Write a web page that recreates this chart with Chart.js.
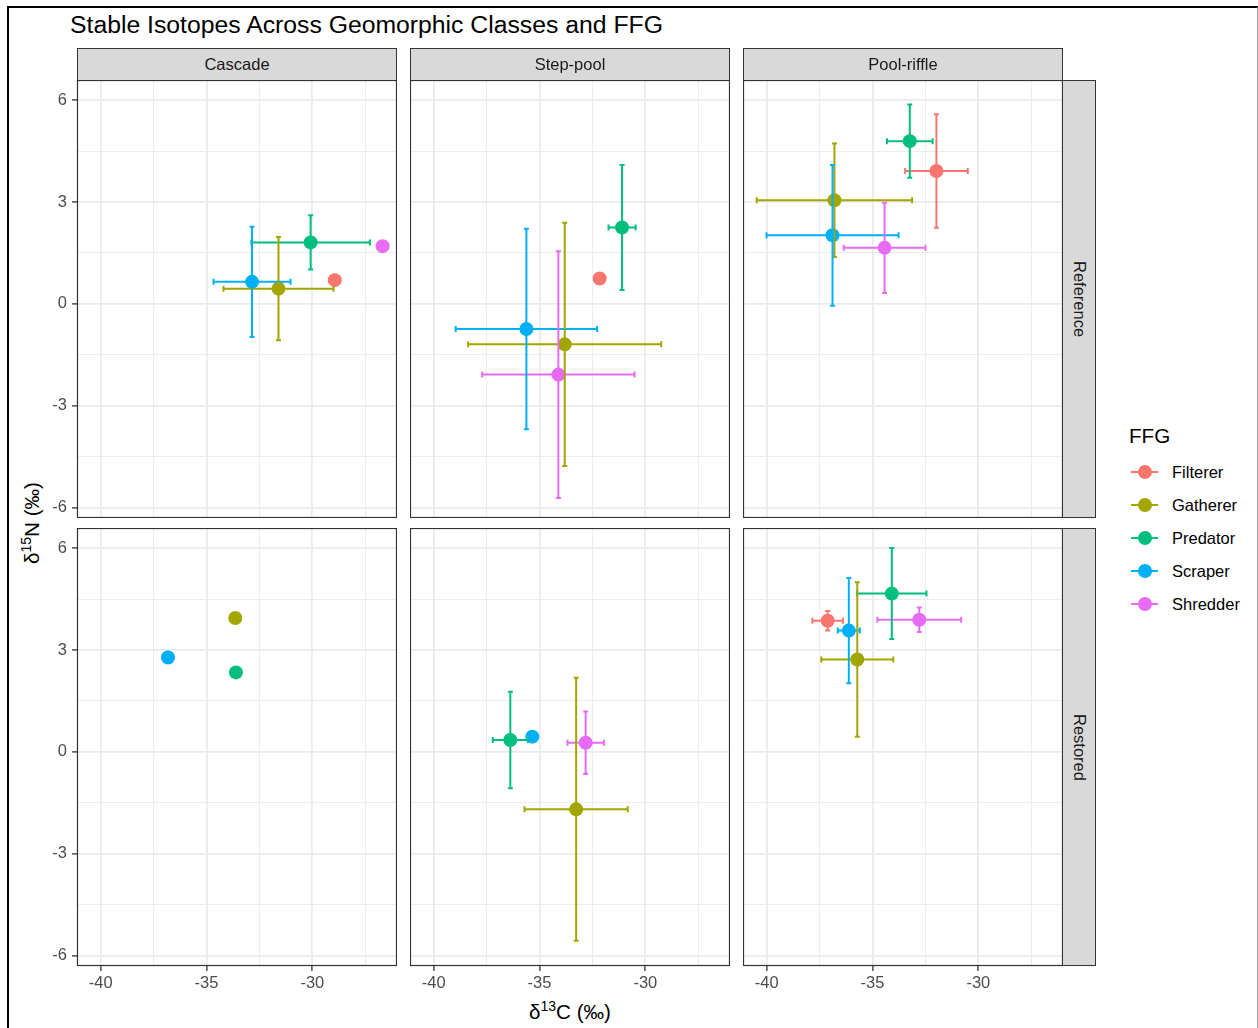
<!DOCTYPE html>
<html>
<head>
<meta charset="utf-8">
<title>Stable Isotopes Across Geomorphic Classes and FFG</title>
<script src="https://cdn.jsdelivr.net/npm/chart.js@4.4.1/dist/chart.umd.min.js"></script>
<style>
  body { margin: 0; background: #fff; font-family: "Liberation Sans", Arial, sans-serif; }
  #fig { position: relative; width: 1258px; height: 1028px; overflow: hidden; background: #fff; }
  .frame { position: absolute; left: 7px; top: 6px; width: 1248px; height: 1100px;
           border-left: 2px solid #000; border-top: 2px solid #000; border-right: 1px solid #a0a0a0; }
  canvas { position: absolute; }
  .title { position: absolute; left: 70px; top: 13px; font-size: 24.75px; color: #000; white-space: nowrap; line-height: 1; }
  .strip { position: absolute; box-sizing: border-box; background: #D9D9D9; border: 1px solid #333;
           color: #1A1A1A; font-size: 16.5px; display: flex; align-items: center; justify-content: center; }
  .strip.side span { writing-mode: vertical-rl; }
  .axis-title { position: absolute; font-size: 20.6px; color: #000; white-space: nowrap; line-height: 1; }
  .axis-title sup { font-size: 14px; vertical-align: 0; position: relative; top: -8px; }
  .legend-title { position: absolute; left: 1129px; top: 426px; font-size: 20.6px; line-height: 1; color: #000; }
  .key { position: absolute; width: 28px; height: 20px; }
  .key .ln { position: absolute; left: 0; top: 9px; width: 27px; height: 2px; }
  .key .dot { position: absolute; left: 7px; top: 3px; width: 14px; height: 14px; border-radius: 50%; }
  .key-label { position: absolute; font-size: 16.5px; color: #000; line-height: 20px; }
</style>
</head>
<body>
<div id="fig">
  <div class="frame"></div>
  <div class="title">Stable Isotopes Across Geomorphic Classes and FFG</div>
  <div class="axis-title" style="left:570px; top:1002px; transform:translateX(-50%);">&delta;<sup>13</sup>C (&permil;)</div>
  <div class="axis-title" style="left:32px; top:523px; transform:translate(-50%,-50%) rotate(-90deg);">&delta;<sup>15</sup>N (&permil;)</div>
  <div class="legend-title">FFG</div>
</div>
<script>
const ffgGroups = ['Filterer', 'Gatherer', 'Predator', 'Scraper', 'Shredder'];
const ffgColors = ['#F8766D', '#A3A500', '#00BF7D', '#00B0F6', '#E76BF3'];
const reaches = ['Cascade', 'Step-pool', 'Pool-riffle'];
const conditions = ['Reference', 'Restored'];
const xTicks = [-40, -37.5, -35, -32.5, -30, -27.5];
const yTicks = [-6, -4.5, -3, -1.5, 0, 1.5, 3, 4.5, 6];

// [FFG, mean d13C, mean d15N, SD d13C, SD d15N]; null SD = no error bar
const cascadeReference = [
  ['Filterer', -28.94, 0.70, null, null],
  ['Gatherer', -31.60, 0.45, 2.60, 1.52],
  ['Predator', -30.08, 1.81, 2.80, 0.80],
  ['Scraper', -32.85, 0.65, 1.82, 1.62],
  ['Shredder', -26.68, 1.70, null, null]
];
const steppoolReference = [
  ['Filterer', -32.16, 0.75, null, null],
  ['Gatherer', -33.81, -1.19, 4.56, 3.58],
  ['Predator', -31.10, 2.25, 0.64, 1.84],
  ['Scraper', -35.62, -0.74, 3.34, 2.95],
  ['Shredder', -34.11, -2.08, 3.60, 3.63]
];
const poolriffleReference = [
  ['Filterer', -31.98, 3.91, 1.48, 1.67],
  ['Gatherer', -36.80, 3.05, 3.67, 1.67],
  ['Predator', -33.24, 4.79, 1.08, 1.08],
  ['Scraper', -36.89, 2.02, 3.12, 2.07],
  ['Shredder', -34.43, 1.65, 1.93, 1.33]
];
const cascadeRestored = [
  ['Gatherer', -33.64, 3.94, null, null],
  ['Predator', -33.61, 2.34, null, null],
  ['Scraper', -36.82, 2.78, null, null]
];
const steppoolRestored = [
  ['Gatherer', -33.27, -1.69, 2.44, 3.87],
  ['Predator', -36.38, 0.35, 0.83, 1.42],
  ['Scraper', -35.34, 0.45, null, null],
  ['Shredder', -32.82, 0.27, 0.86, 0.92]
];
const poolriffleRestored = [
  ['Filterer', -37.12, 3.86, 0.72, 0.29],
  ['Gatherer', -35.72, 2.72, 1.70, 2.27],
  ['Predator', -34.09, 4.66, 1.64, 1.34],
  ['Scraper', -36.12, 3.57, 0.52, 1.55],
  ['Shredder', -32.79, 3.89, 1.98, 0.36]
];

const panels = [
  [cascadeReference, steppoolReference, poolriffleReference],
  [cascadeRestored, steppoolRestored, poolriffleRestored]
];

const colLeft = [77, 410, 743];
const rowTop = [80, 528];
const panelW = 320, panelH = 438;
const yAxisW = 50, xAxisH = 40;
const fontFamily = '"Liberation Sans", Arial, sans-serif';

// mean +/- SD bars, horizontal first so the vertical ones sit on top
const errorBars = {
  id: 'errorBars',
  afterDatasetsDraw(chart) {
    const { ctx, scales: { x, y } } = chart;
    ctx.save();
    ctx.lineWidth = 2;
    ['x', 'y'].forEach(axis => {
      chart.data.datasets.forEach(ds => {
        ctx.strokeStyle = ds.backgroundColor;
        ds.data.forEach(p => {
          const sd = axis === 'x' ? p.xsd : p.ysd;
          if (sd == null) return;
          const px = x.getPixelForValue(p.x);
          const py = y.getPixelForValue(p.y);
          ctx.beginPath();
          if (axis === 'x') {
            const x0 = x.getPixelForValue(p.x - sd), x1 = x.getPixelForValue(p.x + sd);
            ctx.moveTo(x0, py); ctx.lineTo(x1, py);
            ctx.moveTo(x0, py - 3); ctx.lineTo(x0, py + 3);
            ctx.moveTo(x1, py - 3); ctx.lineTo(x1, py + 3);
          } else {
            const y0 = y.getPixelForValue(p.y - sd), y1 = y.getPixelForValue(p.y + sd);
            ctx.moveTo(px, y0); ctx.lineTo(px, y1);
            ctx.moveTo(px - 2.5, y0); ctx.lineTo(px + 2.5, y0);
            ctx.moveTo(px - 2.5, y1); ctx.lineTo(px + 2.5, y1);
          }
          ctx.stroke();
        });
      });
    });
    ctx.restore();
  }
};

const panelBorder = {
  id: 'panelBorder',
  afterDraw(chart) {
    const { ctx, chartArea: a } = chart;
    ctx.save();
    ctx.strokeStyle = '#333333';
    ctx.lineWidth = 1.2;
    ctx.strokeRect(a.left + 0.5, a.top + 0.5, a.width - 1, a.height - 1);
    ctx.restore();
  }
};

function isMajorX(v) { return Math.abs(v % 5) < 1e-9; }
function isMajorY(v) { return Math.abs(v % 3) < 1e-9; }

function axisOptions(axis, showLabels) {
  const isX = axis === 'x';
  const major = isX ? isMajorX : isMajorY;
  const tickValues = isX ? xTicks : yTicks;
  return {
    type: 'linear',
    min: isX ? -41.12 : -6.3,
    max: isX ? -26.0 : 6.59,
    afterBuildTicks: scale => { scale.ticks = tickValues.map(v => ({ value: v })); },
    afterFit: scale => {
      if (isX) scale.height = showLabels ? xAxisH : 0;
      else scale.width = showLabels ? yAxisW : 0;
      scale.paddingLeft = scale.paddingRight = scale.paddingTop = scale.paddingBottom = 0;
    },
    border: { display: false },
    grid: {
      color: '#EBEBEB',
      lineWidth: c => (c.tick && major(c.tick.value)) ? 1.8 : 0.9,
      drawTicks: showLabels,
      tickLength: 5,
      tickWidth: 1.3,
      tickColor: c => (c.tick && major(c.tick.value)) ? '#333333' : 'rgba(0,0,0,0)'
    },
    ticks: {
      display: showLabels,
      autoSkip: false,
      maxRotation: 0,
      padding: isX ? 3 : 5,
      color: '#4D4D4D',
      font: { family: fontFamily, size: 16.5 },
      callback: v => major(v) ? String(v) : ''
    }
  };
}

const fig = document.getElementById('fig');

panels.forEach((row, r) => {
  row.forEach((rows, c) => {
    const showY = c === 0, showX = r === 1;
    const canvas = document.createElement('canvas');
    const w = panelW + (showY ? yAxisW : 0);
    const h = panelH + (showX ? xAxisH : 0);
    canvas.width = w; canvas.height = h;
    canvas.style.left = (colLeft[c] - (showY ? yAxisW : 0)) + 'px';
    canvas.style.top = rowTop[r] + 'px';
    canvas.style.width = w + 'px'; canvas.style.height = h + 'px';
    fig.appendChild(canvas);

    const datasets = [];
    ffgGroups.forEach((g, i) => {
      const rec = rows.find(d => d[0] === g);
      if (!rec) return;
      datasets.push({
        label: g,
        data: [{ x: rec[1], y: rec[2], xsd: rec[3], ysd: rec[4] }],
        backgroundColor: ffgColors[i],
        borderWidth: 0,
        pointRadius: 7,
        order: ffgGroups.length - i
      });
    });

    new Chart(canvas, {
      type: 'scatter',
      data: { datasets },
      options: {
        responsive: false,
        animation: false,
        events: [],
        devicePixelRatio: 1,
        layout: { padding: 0, autoPadding: false },
        plugins: { legend: { display: false }, tooltip: { enabled: false } },
        scales: { x: axisOptions('x', showX), y: axisOptions('y', showY) }
      },
      plugins: [errorBars, panelBorder]
    });
  });
});

// facet strips
reaches.forEach((name, c) => {
  const s = document.createElement('div');
  s.className = 'strip';
  Object.assign(s.style, { left: colLeft[c] + 'px', top: '48px', width: panelW + 'px', height: '33px' });
  s.textContent = name;
  fig.appendChild(s);
});
conditions.forEach((name, r) => {
  const s = document.createElement('div');
  s.className = 'strip side';
  Object.assign(s.style, { left: (colLeft[2] + panelW - 1) + 'px', top: rowTop[r] + 'px', width: '34px', height: panelH + 'px' });
  const t = document.createElement('span');
  t.textContent = name;
  s.appendChild(t);
  fig.appendChild(s);
});

// legend
ffgGroups.forEach((g, i) => {
  const cy = 471.5 + i * 33.1;
  const key = document.createElement('div');
  key.className = 'key';
  Object.assign(key.style, { left: '1131px', top: (cy - 10) + 'px' });
  key.innerHTML = '<div class="ln"></div><div class="dot"></div>';
  key.querySelector('.ln').style.background = ffgColors[i];
  key.querySelector('.dot').style.background = ffgColors[i];
  fig.appendChild(key);
  const lab = document.createElement('div');
  lab.className = 'key-label';
  Object.assign(lab.style, { left: '1172px', top: (cy - 10) + 'px' });
  lab.textContent = g;
  fig.appendChild(lab);
});
</script>
</body>
</html>
